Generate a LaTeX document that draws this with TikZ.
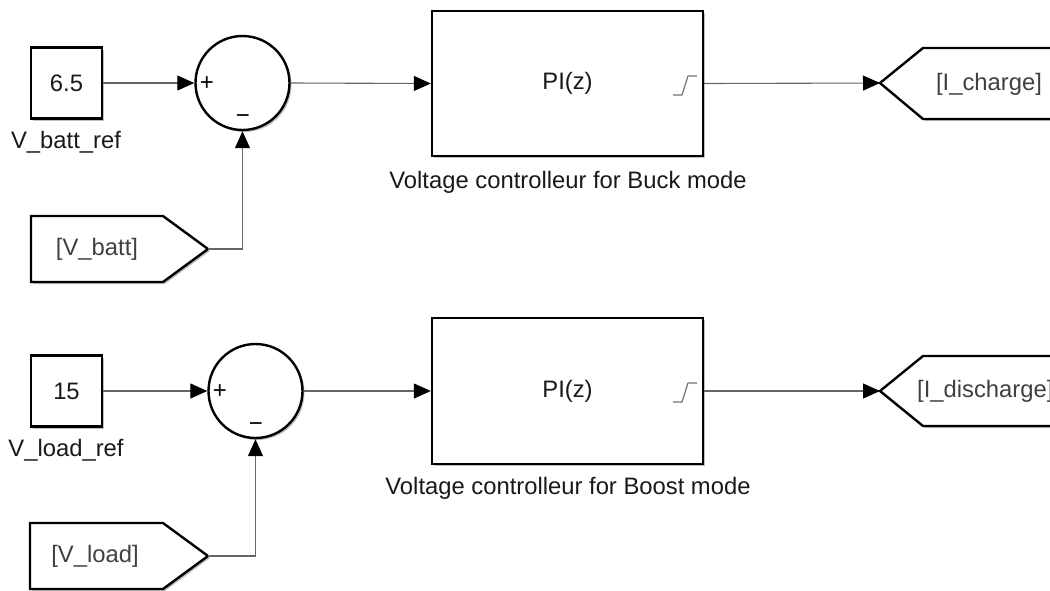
\documentclass[tikz,border=0pt]{standalone}
\usepackage{fontspec}
\setmainfont{Liberation Sans}
\usetikzlibrary{arrows.meta,shadows}
\begin{document}
\begin{tikzpicture}[x=1pt,y=-1pt,
  shd/.style={drop shadow={shadow xshift=2pt,shadow yshift=-2pt,fill=black!35,opacity=0.7}},
  blk/.style={draw=black,line width=2.4pt,fill=white,shd,inner sep=0pt},
  sig/.style={draw=black!60,line width=1.1pt,-{Triangle[length=17pt,width=15pt,color=black]}},
  lbl/.style={font=\fontsize{23.8}{26}\selectfont,text=black!90,inner sep=0pt},
  tagtxt/.style={font=\fontsize{23.8}{26}\selectfont,text=black!75,inner sep=0pt},
  sgn/.style={font=\fontsize{24}{26}\selectfont,text=black,inner sep=0pt},
  sat/.style={draw=black!55,line width=1.2pt}]
\useasboundingbox (0,0) rectangle (1050,590);
\clip (0,0) rectangle (1050,590);

% ---------- top row ----------
\node[blk,lbl,minimum size=71pt] (c1) at (66.5,83) {6.5};
\node[lbl] (c1l) at (66,142) {V\_batt\_ref};
\node[blk,circle,minimum size=94pt] (s1) at (242.5,83) {};
\node[sgn] (s1p) at (207,84) {+};
\node[sgn] (s1m) at (243,119) {\textminus};
\node[blk,lbl,minimum width=271pt,minimum height=145pt] (p1) at (567.5,83.5) {PI(z)};
\node[lbl] (p1l) at (568,182) {Voltage controlleur for Buck mode};
\draw[sat] (673,95) -- (682,95) -- (688,76) -- (697,76);
% goto tag
\draw[blk] (880,83) -- (923,48) -- (1065,48) -- (1065,119) -- (923,119) -- cycle;
\coordinate (g1) at (880,83);
\node[tagtxt] (g1t) at (989,84) {[I\_charge]};
% from tag
\draw[blk] (31,216) -- (163,216) -- (208,249) -- (163,282) -- (31,282) -- cycle;
\coordinate (f1) at (208,249);
\node[tagtxt] (f1t) at (97,249) {[V\_batt]};

\draw[sig] (c1.east) -- (s1.west);
\draw[sig] (s1.east) -- (p1.west);
\draw[sig] (p1.east) -- (g1);
\draw[sig] (f1) -| (s1.south);

% ---------- bottom row ----------
\node[blk,lbl,minimum size=71pt] (c2) at (66.5,391) {15};
\node[lbl] (c2l) at (66,450) {V\_load\_ref};
\node[blk,circle,minimum size=94pt] (s2) at (255.5,391) {};
\node[sgn] (s2p) at (220,392) {+};
\node[sgn] (s2m) at (256,427) {\textminus};
\node[blk,lbl,minimum width=271pt,minimum height=146pt] (p2) at (567.5,391) {PI(z)};
\node[lbl] (p2l) at (568,488) {Voltage controlleur for Boost mode};
\draw[sat] (673,402) -- (682,402) -- (688,383) -- (697,383);
% goto tag
\draw[blk] (880,391) -- (923,356) -- (1065,356) -- (1065,426) -- (923,426) -- cycle;
\coordinate (g2) at (880,391);
\node[tagtxt,anchor=west] (g2t) at (917,391) {[I\_discharge]};
% from tag
\draw[blk] (30,523) -- (163,523) -- (208,556) -- (163,589) -- (30,589) -- cycle;
\coordinate (f2) at (208,556);
\node[tagtxt] (f2t) at (95,556) {[V\_load]};

\draw[sig] (c2.east) -- (s2.west);
\draw[sig] (s2.east) -- (p2.west);
\draw[sig] (p2.east) -- (g2);
\draw[sig] (f2) -| (s2.south);
\end{tikzpicture}
\end{document}
